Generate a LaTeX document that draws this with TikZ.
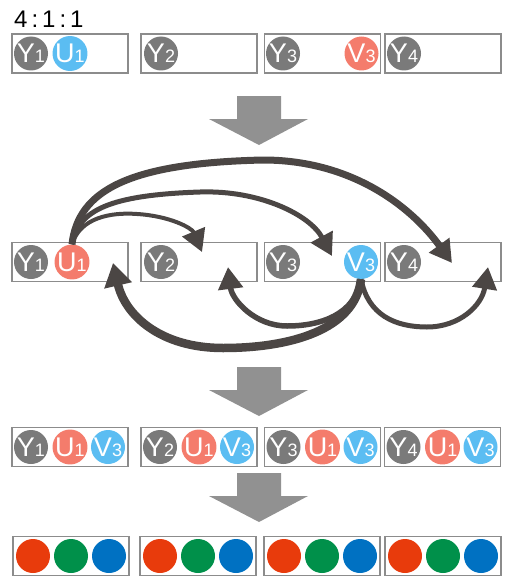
\documentclass[tikz,border=0pt]{standalone}
\usepackage{fontspec}
\setmainfont{Liberation Sans}
\usetikzlibrary{arrows.meta}

\definecolor{ygray}{HTML}{7A7A7A}
\definecolor{ublue}{HTML}{5BBDF2}
\definecolor{vred}{HTML}{F47C6C}
\definecolor{boxgray}{HTML}{8C8C8C}
\definecolor{biggray}{HTML}{919191}
\definecolor{linkdark}{HTML}{4B4644}
\definecolor{outred}{HTML}{E83B0C}
\definecolor{outgreen}{HTML}{00904A}
\definecolor{outblue}{HTML}{0071C2}

\newcommand{\lbl}[2]{{\fontsize{27}{27}\selectfont #1}{\fontsize{18}{18}\selectfont #2}}

\begin{document}
\begin{tikzpicture}[x=1pt,y=-1pt,
      box/.style={draw=boxgray,line width=1.2pt,minimum width=116pt,minimum height=39pt,inner sep=0pt},
      token/.style={circle,inner sep=0pt,minimum size=34pt,text=white},
      link/.style={draw=linkdark,line width=#1,-{Triangle[length=22pt,width=24pt]}}]
    \useasboundingbox (0,0) rectangle (512,586);

    \node[anchor=base west,inner sep=0pt,font=\fontsize{24}{24}\selectfont] (ratio) at (14,28) {4\,:\,1\,:\,1};

    % before
    \node[box] (top1) at (70,53.5) {};
    \node[box] (top2) at (199,53.5) {};
    \node[box] (top3) at (322.5,53.5) {};
    \node[box] (top4) at (443,53.5) {};
    \node[token,fill=ygray] (ty1) at (31,53.5) {\lbl{Y}{1}};
    \node[token,fill=ublue] (tu1) at (70,53.5) {\lbl{U}{1}};
    \node[token,fill=ygray] (ty2) at (161,53.5) {\lbl{Y}{2}};
    \node[token,fill=ygray] (ty3) at (283,53.5) {\lbl{Y}{3}};
    \node[token,fill=vred] (tv3) at (361.5,53.5) {\lbl{V}{3}};
    \node[token,fill=ygray] (ty4) at (404,53.5) {\lbl{Y}{4}};

    \foreach \t in {96,367,473}
      \fill[biggray] (237,\t) -- (281,\t) -- (281,\t+23) -- (308,\t+23)
        -- (259,\t+49) -- (209,\t+23) -- (237,\t+23) -- cycle;

    % exchange
    \node[box] (mid1) at (70,262) {};
    \node[box] (mid2) at (199,262) {};
    \node[box] (mid3) at (322.5,262) {};
    \node[box] (mid4) at (443,262) {};
    \node[token,fill=ygray] (my1) at (31,262) {\lbl{Y}{1}};
    \node[token,fill=vred] (mu1) at (72,262) {\lbl{U}{1}};
    \node[token,fill=ygray] (my2) at (161,262) {\lbl{Y}{2}};
    \node[token,fill=ygray] (my3) at (283,262) {\lbl{Y}{3}};
    \node[token,fill=ublue] (mv3) at (361,262) {\lbl{V}{3}};
    \node[token,fill=ygray] (my4) at (404,262) {\lbl{Y}{4}};

    \coordinate (tipa) at (202,252);
    \coordinate (tipb) at (332,256);
    \coordinate (tipc) at (452,263);
    \coordinate (tipd) at (113,263);
    \coordinate (tipe) at (228,267);
    \coordinate (tipf) at (488,267);

    \draw[link=4pt] (mu1.north) .. controls (80,218) and (110,212) .. (137,214)
      .. controls (170,216) and (192,228) .. (tipa);
    \draw[link=5pt] (mu1.north) .. controls (78,210) and (110,195) .. (200,192)
      .. controls (260,190) and (310,215) .. (tipb);
    \draw[link=7pt] (mu1.north) .. controls (78,190) and (130,163) .. (263,160)
      .. controls (350,160) and (410,205) .. (tipc);
    \draw[link=8.5pt,-{Triangle[length=23pt,width=27pt]}] (mv3.south) .. controls (355,330) and (290,348) .. (223,348)
      .. controls (160,348) and (125,315) .. (tipd);
    \draw[link=5.5pt] (mv3.south) .. controls (355,315) and (320,326) .. (287,326)
      .. controls (255,326) and (232,300) .. (tipe);
    \draw[link=5pt] (mv3.south) .. controls (368,315) and (395,327) .. (427,327)
      .. controls (460,327) and (482,305) .. (tipf);

    % after
    \foreach \i/\x in {1/70,2/199,3/322.5,4/442.5}{
      \node[box] (mix\i) at (\x,447) {};
      \node[token,fill=ygray] (xy\i) at (\x-39,447) {\lbl{Y}{\i}};
      \node[token,fill=vred] (xu\i) at (\x,447) {\lbl{U}{1}};
      \node[token,fill=ublue] (xv\i) at (\x+38,447) {\lbl{V}{3}};
    }

    % colours
    \foreach \i/\x in {1/71,2/198,3/322,4/443}{
      \node[box] (out\i) at (\x,556) {};
      \node[token,fill=outred] (or\i) at (\x-38,556) {};
      \node[token,fill=outgreen] (og\i) at (\x,556) {};
      \node[token,fill=outblue] (ob\i) at (\x+38,556) {};
    }
  \end{tikzpicture}
\end{document}
